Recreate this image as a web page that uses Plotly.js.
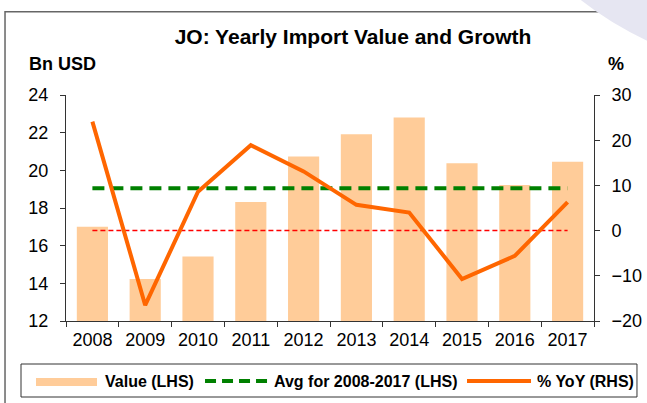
<!DOCTYPE html>
<html>
<head>
<meta charset="utf-8">
<script src="https://cdn.plot.ly/plotly-3.0.1.min.js"></script>
<style>
html,body{margin:0;padding:0;background:#fff;}
#chart{width:647px;height:403px;}
</style>
</head>
<body>
<div id="chart"></div>
<script>
// Data
const years = ['2008','2009','2010','2011','2012','2013','2014','2015','2016','2017'];
const importValue = [17.0, 14.23, 15.42, 18.32, 20.73, 21.91, 22.8, 20.37, 19.22, 20.46]; // Bn USD (LHS)
const yoyGrowth = [24.1, -16.5, 8.6, 18.9, 13.1, 5.7, 4.0, -10.7, -5.6, 6.3]; // % (RHS)
const zeroLine = [0, 0, 0, 0, 0, 0, 0, 0, 0, 0]; // % (RHS)
const seriesNames = ['Value (LHS)', 'Avg for 2008-2017 (LHS)', '% YoY (RHS)'];

const avgValue = importValue.reduce((a, b) => a + b, 0) / importValue.length;
const avgLine = years.map(() => avgValue);

const FONT = 'Liberation Sans, Arial, sans-serif';
const C_BAR = '#FFCC99', C_AVG = '#008000', C_YOY = '#FF6600';

const traces = [
  {
    type: 'bar', x: years, y: importValue, name: seriesNames[0],
    marker: {color: C_BAR}, yaxis: 'y', hoverinfo: 'skip'
  },
  {
    type: 'scatter', mode: 'lines', x: years, y: zeroLine, yaxis: 'y2', name: '0%',
    line: {color: '#FF0000', width: 1.5, dash: '5px,3px'}, hoverinfo: 'skip'
  },
  {
    type: 'scatter', mode: 'lines', x: years, y: avgLine, yaxis: 'y', name: seriesNames[1],
    line: {color: C_AVG, width: 4, dash: '12px,7px'}, hoverinfo: 'skip'
  },
  {
    type: 'scatter', mode: 'lines', x: years, y: yoyGrowth, yaxis: 'y2', name: seriesNames[2],
    line: {color: C_YOY, width: 4}, hoverinfo: 'skip'
  }
];

const axisCommon = {
  showgrid: false, zeroline: false, showline: true, linecolor: '#333', linewidth: 1,
  ticks: 'outside', ticklen: 5, tickcolor: '#333', tickwidth: 1,
  tickfont: {family: FONT, size: 18, color: '#000'}
};

// Legend drawn as a box at the bottom (paper coordinates)
const legFont = {family: FONT, size: 16, color: '#000', weight: 'bold'};
const legY = -0.2655;
const legendShapes = [
  {type: 'rect', xref: 'paper', yref: 'paper', x0: -0.0852, x1: 1.0814, y0: -0.1903, y1: -0.3363,
   line: {color: '#333', width: 1}, fillcolor: '#fff'},
  {type: 'rect', xref: 'paper', yref: 'paper', x0: -0.0568, x1: 0.0587, y0: -0.2522, y1: -0.2876,
   line: {width: 0}, fillcolor: C_BAR},
  {type: 'line', xref: 'paper', yref: 'paper', x0: 0.2633, x1: 0.3826, y0: legY, y1: legY,
   line: {color: C_AVG, width: 4, dash: '11px,6px'}},
  {type: 'line', xref: 'paper', yref: 'paper', x0: 0.7595, x1: 0.8807, y0: legY, y1: legY,
   line: {color: C_YOY, width: 4}}
];
const legendText = [
  {text: seriesNames[0], x: 0.0701},
  {text: seriesNames[1], x: 0.3902},
  {text: seriesNames[2], x: 0.8883}
].map(o => ({text: o.text, xref: 'paper', yref: 'paper', x: o.x, y: legY, xanchor: 'left', yanchor: 'middle',
  showarrow: false, font: legFont}));

const layout = {
  width: 647, height: 403,
  margin: {l: 66, r: 53, t: 95, b: 82, autoexpand: false},
  paper_bgcolor: '#fff', plot_bgcolor: '#fff',
  font: {family: FONT, color: '#000'},
  title: {
    text: 'JO: Yearly Import Value and Growth',
    font: {family: FONT, size: 21, color: '#000', weight: 'bold'},
    x: 0.5456, xanchor: 'center', xref: 'container',
    y: 0.910, yanchor: 'middle', yref: 'container'
  },
  bargap: 0.41,
  showlegend: false,
  xaxis: Object.assign({}, axisCommon, {
    type: 'category', tickson: 'boundaries', ticklabelstandoff: 2
  }),
  yaxis: Object.assign({}, axisCommon, {
    range: [12, 24], dtick: 2, tick0: 12, ticklabelstandoff: 8
  }),
  yaxis2: Object.assign({}, axisCommon, {
    range: [-20, 30], dtick: 10, tick0: -20, overlaying: 'y', side: 'right', ticklabelstandoff: 8
  }),
  annotations: [
    {text: 'Bn USD', xref: 'paper', yref: 'paper', x: -0.0739, y: 1.135, xanchor: 'left', yanchor: 'middle',
     showarrow: false, font: {family: FONT, size: 18, color: '#000', weight: 'bold'}},
    {text: '%', xref: 'paper', yref: 'paper', x: 1.0426, y: 1.139, xanchor: 'center', yanchor: 'middle',
     showarrow: false, font: {family: FONT, size: 18, color: '#000', weight: 'bold'}}
  ].concat(legendText),
  shapes: [
    {type: 'rect', xref: 'paper', yref: 'paper', x0: -0.1155, y0: -0.6, x1: 1.3, y1: 1.3686,
     line: {color: '#666', width: 1.5}, fillcolor: 'rgba(0,0,0,0)', layer: 'below'},
    {type: 'path', xref: 'paper', yref: 'paper',
     path: 'M 0.975 1.42 L 1.12 1.42 L 1.12 1.22 Q 1.04 1.30 0.975 1.42 Z',
     fillcolor: '#E6E6F2', line: {width: 0}, layer: 'below'}
  ].concat(legendShapes)
};

Plotly.newPlot('chart', traces, layout, {staticPlot: true, displayModeBar: false});
</script>
</body>
</html>
